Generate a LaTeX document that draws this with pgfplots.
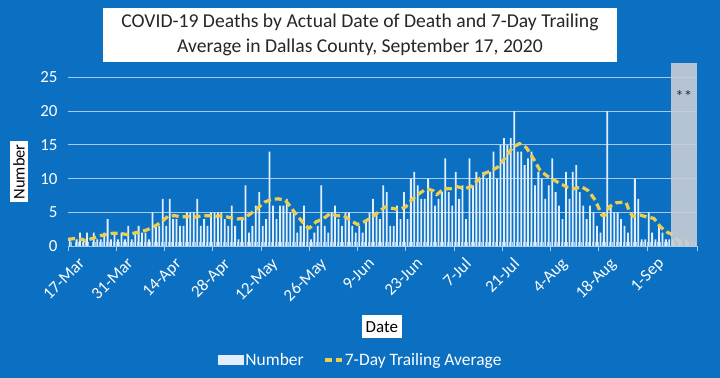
\documentclass[border=0pt]{standalone}
\usepackage{fontspec}
\setmainfont{Carlito}
\usepackage{pgfplots}
\usepackage{pgfplotstable}
\pgfplotsset{compat=1.18}
\definecolor{bg}{RGB}{12,112,194}
\definecolor{gridc}{RGB}{165,202,238}
\definecolor{barc}{RGB}{225,238,253}
\definecolor{avgc}{RGB}{236,206,80}
\definecolor{grayc}{RGB}{200,206,214}
\pgfplotstableread{
d v
0 1
1 0
2 1
3 2
4 1
5 2
6 0
7 2
8 1
9 1
10 2
11 4
12 1
13 2
14 1
15 2
16 1
17 3
18 1
19 2
20 3
21 2
22 2
23 1
24 5
25 3
26 3
27 7
28 3
29 7
30 4
31 4
32 3
33 3
34 5
35 5
36 5
37 7
38 3
39 4
40 3
41 5
42 5
43 5
44 5
45 4
46 3
47 6
48 3
49 1
50 4
51 9
52 2
53 3
54 6
55 8
56 3
57 4
58 14
59 6
60 4
61 6
62 6
63 7
64 5
65 5
66 2
67 3
68 6
69 3
70 1
71 2
72 3
73 9
74 3
75 2
76 5
77 6
78 4
79 3
80 5
81 5
82 3
83 2
84 3
85 2
86 4
87 5
88 7
89 5
90 4
91 9
92 8
93 3
94 3
95 6
96 4
97 8
98 4
99 10
100 11
101 9
102 7
103 7
104 10
105 8
106 6
107 7
108 8
109 13
110 8
111 6
112 11
113 7
114 9
115 4
116 13
117 9
118 11
119 10
120 11
121 10
122 11
123 14
124 10
125 15
126 16
127 15
128 16
129 20
130 14
131 14
132 12
133 13
134 14
135 9
136 11
137 10
138 7
139 9
140 13
141 8
142 6
143 4
144 11
145 7
146 11
147 12
148 8
149 6
150 4
151 6
152 5
153 3
154 2
155 5
156 20
157 6
158 5
159 5
160 4
161 3
162 2
163 5
164 10
165 7
166 1
167 1
168 5
169 2
170 1
171 3
172 2
173 1
174 1
175 1
176 0
177 1
178 0
179 1
180 0
181 0
}\deaths
\pgfplotstableread{
d a
0 1.0
2 1.1
4 1.0
5 0.8
7 1.1
9 1.5
11 1.7
13 1.9
15 1.9
17 1.7
19 1.9
21 2.1
23 2.4
25 2.9
27 3.5
29 4.4
31 4.5
33 4.3
35 4.4
37 4.3
39 4.5
41 4.5
43 4.4
45 4.5
47 4.2
49 4.0
51 4.1
53 4.8
55 5.6
57 6.5
59 6.9
61 7.0
63 6.8
64 6.2
65 5.5
67 4.2
69 3.0
70 2.6
72 3.6
74 4.0
76 4.8
78 4.5
80 4.5
82 3.8
84 3.2
86 3.6
88 4.2
90 5.0
92 5.8
94 5.6
96 5.4
98 5.8
100 7.0
102 7.8
104 8.5
106 8.2
107 7.6
109 8.5
111 8.5
113 8.8
115 8.5
117 8.8
119 9.8
121 10.8
123 11.2
125 11.8
127 13.2
129 14.6
131 15.2
133 14.6
135 13.0
137 11.2
139 10.4
141 9.8
143 9.2
145 8.7
147 8.5
149 8.8
151 8.2
153 6.8
155 4.5
156 4.6
157 5.8
159 6.4
161 6.5
162 6.4
163 5.0
164 4.4
166 4.6
168 4.3
170 4.1
172 2.8
174 2.0
175 1.8
176 1.2
178 0.6
180 0.3
}\avg
\begin{document}
\begin{tikzpicture}
\fill[bg] (0bp,0bp) rectangle (720bp,378bp);
\fill[white] (103bp,316bp) rectangle (617bp,370bp);
\node[align=center, font=\fontsize{19.7}{25}\selectfont, text=black!85] at (360bp,343bp) {COVID-19 Deaths by Actual Date of Death and 7-Day Trailing\\Average in Dallas County, September 17, 2020};
\begin{axis}[
  at={(68bp,132bp)}, anchor=south west, scale only axis,
  width=628.9bp, height=168.5bp,
  xmin=0, xmax=182.5, ymin=0, ymax=25,
  clip=false,
  axis x line*=bottom, axis y line*=left,
  y axis line style={draw=none},
  x axis line style={draw=gridc, line width=1pt},
  ytick={0,5,...,25},
  ymajorgrids, grid style={draw=gridc, line width=0.9pt},
  ytick style={draw=none},
  xtick={0,14,...,168,182.5},
  minor xtick={1,2,...,182},
  xticklabels={17-Mar,31-Mar,14-Apr,28-Apr,12-May,26-May,9-Jun,23-Jun,7-Jul,21-Jul,4-Aug,18-Aug,1-Sep,},
  xtick style={draw=gridc, line width=0.8pt},
  minor x tick style={draw=gridc, line width=0.5pt, yshift=3.5bp},
  tick align=outside, major tick length=5bp, minor tick length=3.5bp,
  x tick label style={rotate=45, anchor=north east, font=\fontsize{17}{17}\selectfont, text=white, inner sep=1pt, xshift=4bp, yshift=-10bp},
  yticklabel style={font=\fontsize{17}{17}\selectfont, text=white, xshift=-2bp},
  /pgf/number format/assume math mode=true,
  xlabel={Date},
  xlabel style={at={(axis description cs:0.499,-0.48)}, anchor=center, fill=white, text=black, font=\fontsize{17}{17}\selectfont, inner xsep=4pt, inner ysep=6pt, rotate=0},
  ylabel={Number},
  ylabel style={at={(axis description cs:-0.078,0.44)}, anchor=center, fill=white, text=black, font=\fontsize{16.5}{16.5}\selectfont, inner sep=3pt},
  legend style={at={(axis description cs:0.465,-0.677)}, anchor=center, draw=none, fill=none, text=white, font=\fontsize{17.5}{17.5}\selectfont, legend columns=2, /tikz/every even column/.append style={column sep=18bp}, nodes={inner sep=1.5pt}},
]
\addplot[ybar, bar width=1.8bp, bar shift=0pt, fill=barc, draw=none,
  legend image code/.code={\fill[barc] (0bp,-5bp) rectangle (26bp,5bp);}]
  table[x expr=\thisrow{d}+0.5, y=v] {\deaths};
\addlegendentry{Number}
\addplot[avgc, line width=3.2bp, dash pattern=on 7bp off 4bp, line join=round]
  table[x=d, y=a] {\avg};
\addlegendentry{7-Day Trailing Average}
\fill[grayc, opacity=0.9] (axis cs:174.9,0) rectangle (axis cs:182.5,27.2);
\node[text=black!80, font=\fontsize{17}{17}\selectfont] at (axis cs:178.7,22.2) {**};
\end{axis}
\end{tikzpicture}
\end{document}
